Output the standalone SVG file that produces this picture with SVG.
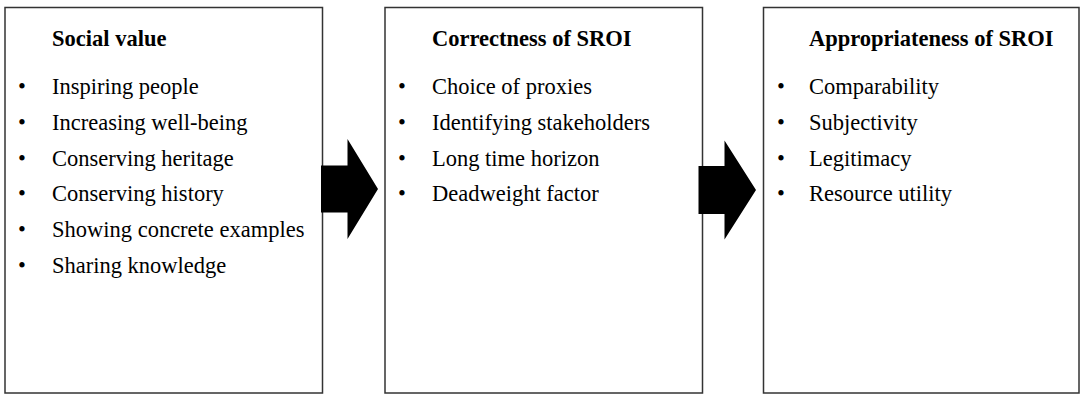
<svg xmlns="http://www.w3.org/2000/svg" width="1080" height="394" viewBox="0 0 1080 394">
<style>
.box{fill:#fff;stroke:#333;stroke-width:1.5}
.t{font-family:'Liberation Serif','Times New Roman',Times,'DejaVu Serif',serif;font-size:22.5px;fill:#000}
.h{font-weight:bold}
.b{text-anchor:middle}
.arr{fill:#000}
</style>
<rect width="1080" height="394" fill="#fff"/>
<g id="node-social-value">
<rect class="box" x="5" y="7.5" width="317.5" height="385.5"/>
<text class="t h" x="52" y="46">Social value</text>
<text class="t b" x="22" y="94">•</text><text class="t" x="52" y="94">Inspiring people</text>
<text class="t b" x="22" y="130">•</text><text class="t" x="52" y="130">Increasing well-being</text>
<text class="t b" x="22" y="165.5">•</text><text class="t" x="52" y="165.5">Conserving heritage</text>
<text class="t b" x="22" y="201">•</text><text class="t" x="52" y="201">Conserving history</text>
<text class="t b" x="22" y="237">•</text><text class="t" x="52" y="237">Showing concrete examples</text>
<text class="t b" x="22" y="273">•</text><text class="t" x="52" y="273">Sharing knowledge</text>
</g>
<g id="node-correctness">
<rect class="box" x="385" y="7.5" width="317.5" height="385.5"/>
<text class="t h" x="432" y="46">Correctness of SROI</text>
<text class="t b" x="402" y="94">•</text><text class="t" x="432" y="94">Choice of proxies</text>
<text class="t b" x="402" y="130">•</text><text class="t" x="432" y="130">Identifying stakeholders</text>
<text class="t b" x="402" y="165.5">•</text><text class="t" x="432" y="165.5">Long time horizon</text>
<text class="t b" x="402" y="201">•</text><text class="t" x="432" y="201">Deadweight factor</text>
</g>
<g id="node-appropriateness">
<rect class="box" x="763.5" y="7.5" width="315.5" height="385.5"/>
<text class="t h" x="809" y="46">Appropriateness of SROI</text>
<text class="t b" x="781" y="94">•</text><text class="t" x="809" y="94">Comparability</text>
<text class="t b" x="781" y="130">•</text><text class="t" x="809" y="130">Subjectivity</text>
<text class="t b" x="781" y="165.5">•</text><text class="t" x="809" y="165.5">Legitimacy</text>
<text class="t b" x="781" y="201">•</text><text class="t" x="809" y="201">Resource utility</text>
</g>
<g id="connectors">
<polygon class="arr" points="321,165.5 347.5,165.5 347.5,139 378,189 347.5,239 347.5,212.5 321,212.5"/>
<polygon class="arr" points="698.5,166 724.5,166 724.5,140.5 756,190 724.5,239.5 724.5,214 698.5,214"/>
</g>
</svg>
